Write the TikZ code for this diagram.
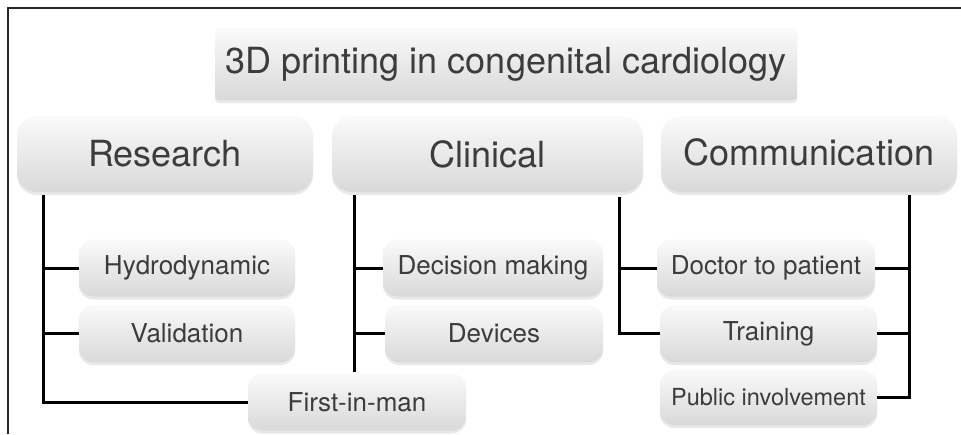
\documentclass[tikz,border=0pt]{standalone}
\usepackage{fontspec}
\setmainfont{TeX Gyre Heros}
\usetikzlibrary{shadows,calc}
\definecolor{txt}{HTML}{3C3C3C}
\begin{document}
\begin{tikzpicture}[x=1pt,y=-1pt,
  box/.style={rounded corners=#1, top color=gray!4, bottom color=gray!30,
    draw=none, text=txt, inner sep=0pt,
    drop shadow={shadow xshift=0pt, shadow yshift=-3pt, opacity=0.18, fill=gray}},
  bigbox/.style={box=20pt, minimum height=76pt, font=\fontsize{36}{40}\selectfont},
  smallbox/.style={box=14pt, minimum height=57pt, font=\fontsize{26}{30}\selectfont},
  link/.style={line width=3pt, black}]
\useasboundingbox (0,0) rectangle (961,434);
% frame
\draw[line width=1.5pt, black!85] (8,434) -- (8,8) -- (961,8);

% title
\node[box=4pt, minimum width=582pt, minimum height=72pt,
  font=\fontsize{36}{40}\selectfont] (title) at (506,64) {3D printing in congenital cardiology};

% categories
\node[bigbox, minimum width=296pt] (research) at (165,154) {Research};
\node[bigbox, minimum width=311pt] (clinical) at (487.5,154) {Clinical};
\node[bigbox, minimum width=296pt] (comm) at (809,154) {\raisebox{3pt}{Communication}};

% research items
\node[smallbox, minimum width=216pt] (hydro) at (187,268) {Hydrodynamic};
\node[smallbox, minimum width=216pt] (valid) at (187,333.5) {Validation};
\node[smallbox, minimum width=218pt] (first) at (357,402) {First-in-man};

% clinical items
\node[smallbox, minimum width=220pt] (decision) at (493,268) {Decision making};
\node[smallbox, minimum width=218pt] (devices) at (494,333.5) {Devices};

% communication items
\node[smallbox, minimum width=218pt] (doctor) at (766,268) {Doctor to patient};
\node[smallbox, minimum width=217pt] (training) at (768.5,333.5) {Training};
\node[smallbox, minimum width=217pt, minimum height=55pt,
  font=\fontsize{23.5}{28}\selectfont] (public) at (768.5,397.5) {Public involvement};

% connector roots below the category boxes (y grows downwards)
\coordinate (rA) at ($(research.south west)+(27,3)$);
\coordinate (cA) at ($(clinical.south west)+(23,3)$);
\coordinate (cB) at ($(clinical.south west)+(23,180)$);
\coordinate (mL) at ($(comm.south west)+(-41,5)$);
\coordinate (mR) at ($(comm.south east)+(-48,3)$);

% research branch
\draw[link] (rA) |- (first.west);
\draw[link] (rA |- hydro.west) -- (hydro.west);
\draw[link] (rA |- valid.west) -- (valid.west);

% clinical branch
\draw[link] (cA) -- (cB);
\draw[link] (cA |- decision.west) -- (decision.west);
\draw[link] (cA |- devices.west) -- (devices.west);

% communication branch, left side
\draw[link] (mL) |- (training.west);
\draw[link] (mL |- doctor.west) -- (doctor.west);

% communication branch, right side
\draw[link] (mR) |- (public.east);
\draw[link] (mR |- doctor.east) -- (doctor.east);
\draw[link] (mR |- training.east) -- (training.east);
\end{tikzpicture}
\end{document}
